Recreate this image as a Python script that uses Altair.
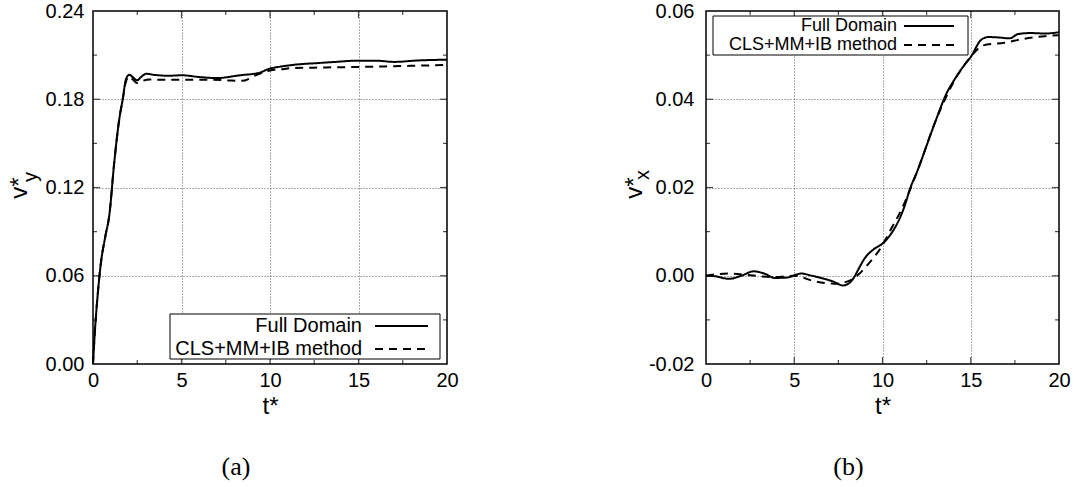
import altair as alt
import pandas as pd

FONT = "Liberation Sans"
SERIF = "Liberation Serif"

series_names = ["Full Domain", "CLS+MM+IB method"]

# ---------------- panel (a): v*_y ----------------
a_full_t = [0, 0.1, 0.25, 0.45, 0.7, 0.92, 1.2, 1.49, 1.68, 1.86, 2.05, 2.25, 2.49, 2.75, 3.0, 3.5,
            4.3, 5.0, 6.0, 7.0, 8.3, 9.4, 9.9, 10.6, 11.4, 12.7, 13.6, 14.9, 16.0, 17.0, 18.4, 20]
a_full_v = [0, 0.021, 0.045, 0.069, 0.087, 0.101, 0.137, 0.167, 0.180, 0.1935, 0.1967, 0.195, 0.1929,
            0.1955, 0.1973, 0.1965, 0.196, 0.1963, 0.1951, 0.1944, 0.1963, 0.198, 0.2005, 0.2022,
            0.2035, 0.2046, 0.2053, 0.2062, 0.2062, 0.2054, 0.2064, 0.2069]
a_cls_t = [0, 0.1, 0.25, 0.45, 0.7, 0.92, 1.2, 1.49, 1.68, 1.86, 2.05, 2.25, 2.49, 2.8, 3.2, 4.0,
           4.9, 6.0, 6.8, 7.6, 8.4, 9.3, 10.0, 10.6, 11.3, 12.5, 13.6, 15.5, 17.5, 20]
a_cls_v = [0, 0.021, 0.045, 0.069, 0.087, 0.101, 0.137, 0.167, 0.180, 0.192, 0.1955, 0.1935, 0.191,
           0.1925, 0.1934, 0.1932, 0.1932, 0.1932, 0.1932, 0.1928, 0.1925, 0.1968, 0.1995, 0.2003,
           0.2012, 0.2015, 0.2017, 0.2021, 0.2026, 0.2033]

# ---------------- panel (b): v*_x ----------------
b_full_t = [0, 0.5, 1.3, 2.0, 2.7, 3.3, 3.9, 4.6, 5.4, 6.0, 6.7, 7.2, 7.75, 8.1, 8.4, 8.6, 9.0, 9.5,
            10.0, 10.5, 11.05, 11.33, 11.5, 12.0, 12.5, 13.0, 13.65, 14.1, 14.5, 15.0, 15.6, 16.0,
            16.6, 17.2, 17.7, 18.4, 19.2, 20]
b_full_v = [0, -0.0001, -0.0007, 0.0, 0.001, 0.0005, -0.0005, -0.0004, 0.0005, 0.0, -0.0007,
            -0.0013, -0.0022, -0.0017, -0.0003, 0.0012, 0.004, 0.006, 0.0073, 0.0096, 0.0137,
            0.0167, 0.019, 0.024, 0.0295, 0.035, 0.0415, 0.0446, 0.047, 0.0496, 0.0535, 0.0541,
            0.054, 0.0538, 0.0548, 0.055, 0.0549, 0.0552]
b_cls_t = [0, 0.5, 1.4, 2.5, 3.9, 5.0, 6.1, 7.3, 8.2, 8.7, 9.2, 9.9, 10.5, 11.05, 12.0, 13.0, 14.0,
           15.0, 15.7, 16.9, 18.0, 19.2, 20]
b_cls_v = [0, 0.0003, 0.0005, 0.0001, -0.0003, 0.0, -0.0012, -0.0018, -0.001, 0.0005, 0.0027,
           0.0063, 0.0107, 0.0148, 0.024, 0.035, 0.0437, 0.0496, 0.0522, 0.0528, 0.0537, 0.0543,
           0.0545]

x_labels = [0, 5, 10, 15, 20]
x_major = [5, 10, 15]
x_minor = [2.5, 7.5, 12.5, 17.5]
a_y_labels = [0, 0.06, 0.12, 0.18, 0.24]
a_y_major = [0.06, 0.12, 0.18]
a_y_minor = [0.03, 0.09, 0.15, 0.21]
b_y_labels = [-0.02, 0, 0.02, 0.04, 0.06]
b_y_major = [0, 0.02, 0.04]
b_y_minor = [-0.01, 0.01, 0.03, 0.05]


def long_df(ft, fv, ct, cv):
    d1 = pd.DataFrame({"t": ft, "v": fv, "series": series_names[0]})
    d2 = pd.DataFrame({"t": ct, "v": cv, "series": series_names[1]})
    return pd.concat([d1, d2], ignore_index=True)


def panel(df, y_domain, y_labels, y_major, y_minor, W, H, ytitle, sub, sub_pos,
          label_pad_y, title_pad_y, caption, leg, leg_font):
    x_enc = alt.X("t:Q", scale=alt.Scale(domain=[0, 20], nice=False, zero=False),
                  axis=alt.Axis(values=x_labels, format="d", title="t*", grid=True))
    y_enc = alt.Y("v:Q", scale=alt.Scale(domain=y_domain, nice=False, zero=False),
                  axis=alt.Axis(values=y_labels, title=ytitle, grid=True,
                                labelExpr="replace(format(datum.value, '.2f'), '\u2212', '-')",
                                labelPadding=label_pad_y, titlePadding=title_pad_y))

    lines = alt.Chart(df).mark_line(color="black", strokeWidth=2, interpolate="monotone").encode(
        x=x_enc, y=y_enc,
        strokeDash=alt.StrokeDash("series:N", scale=alt.Scale(domain=series_names,
                                                              range=[[1, 0], [8, 6]]), legend=None),
    )

    xt = pd.DataFrame({"t": x_major + x_minor, "len": [14] * len(x_major) + [8] * len(x_minor)})
    yt = pd.DataFrame({"v": y_major + y_minor, "len": [14] * len(y_major) + [8] * len(y_minor)})
    size_enc = alt.Size("len:Q", scale=None, legend=None)
    tick_b = alt.Chart(xt).mark_tick(color="black", thickness=1.2, orient="vertical", clip=True).encode(
        x=x_enc, y=alt.value(H), size=size_enc)
    tick_t = alt.Chart(xt).mark_tick(color="black", thickness=1.2, orient="vertical", clip=True).encode(
        x=x_enc, y=alt.value(0), size=size_enc)
    tick_l = alt.Chart(yt).mark_tick(color="black", thickness=1.2, orient="horizontal", clip=True).encode(
        y=y_enc, x=alt.value(0), size=size_enc)
    tick_r = alt.Chart(yt).mark_tick(color="black", thickness=1.2, orient="horizontal", clip=True).encode(
        y=y_enc, x=alt.value(W), size=size_enc)

    one = pd.DataFrame({"k": [0]})
    subscript = alt.Chart(one).mark_text(angle=270, font=FONT, fontSize=20, color="black",
                                         align="center", baseline="middle").encode(
        x=alt.value(sub_pos[0]), y=alt.value(sub_pos[1]), text=alt.value(sub))

    bx0, bx1, by0, by1, tx, lx0, lx1, ry1, ry2 = leg
    box = alt.Chart(one).mark_rect(fill="white", stroke="black", strokeWidth=1).encode(
        x=alt.value(bx0), x2=alt.value(bx1), y=alt.value(by0), y2=alt.value(by1))
    layers = [lines, tick_b, tick_t, tick_l, tick_r, subscript, box]
    for name, ry, dash in [(series_names[0], ry1, [1, 0]), (series_names[1], ry2, [8, 6])]:
        layers.append(alt.Chart(one).mark_text(font=FONT, fontSize=leg_font, color="black",
                                               align="right", baseline="middle").encode(
            x=alt.value(tx), y=alt.value(ry), text=alt.value(name)))
        layers.append(alt.Chart(one).mark_rule(color="black", strokeWidth=2, strokeDash=dash).encode(
            x=alt.value(lx0), x2=alt.value(lx1), y=alt.value(ry)))

    return alt.layer(*layers).properties(
        width=W, height=H,
        title=alt.TitleParams(caption, orient="bottom", font=SERIF, fontSize=26,
                              fontWeight="normal", color="black", dx=-34, offset=36,
                              anchor="middle"),
    )


dfa = long_df(a_full_t, a_full_v, a_cls_t, a_cls_v)
dfb = long_df(b_full_t, b_full_v, b_cls_t, b_cls_v)

left = panel(dfa, [0, 0.24], a_y_labels, a_y_major, a_y_minor, 354, 353, "v*", "y", (-62, 166),
             9, 14, "(a)", (77, 347, 303, 348, 269, 282, 335, 315, 338), 20)
right = panel(dfb, [-0.02, 0.06], b_y_labels, b_y_major, b_y_minor, 353, 353, "v*", "x", (-63, 164),
              12, 2, "(b)", (7, 262, 5, 44, 191, 198, 248, 15, 34), 18)

chart = alt.hconcat(left, right, spacing=162).properties(
    padding={"left": 6, "top": 0, "right": 0, "bottom": 0},
    background="white",
).configure_view(stroke="black", strokeWidth=1.5).configure_axis(
    labelFont=FONT, labelFontSize=20, labelColor="black",
    titleFont=FONT, titleFontSize=24, titleFontWeight="normal", titleColor="black",
    domain=False, ticks=False, tickSize=0,
    gridColor="#333", gridDash=[1, 2], gridWidth=1, gridOpacity=0.8,
).configure_axisX(labelPadding=6, titlePadding=4, labelFlush=False)

chart.save("out.html", embed_options={"renderer": "svg", "actions": False})
